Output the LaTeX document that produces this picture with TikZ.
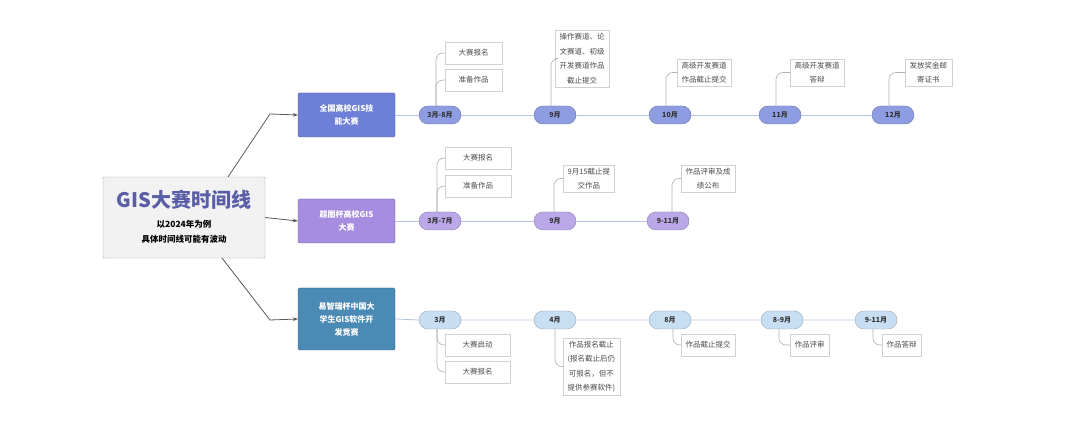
\documentclass[tikz,border=0pt]{standalone}
\usepackage{fontspec}
\setmainfont{Noto Sans CJK SC}
\usetikzlibrary{arrows.meta}
\definecolor{bA}{HTML}{6E7FD8}\definecolor{pA}{HTML}{8E9DE2}
\definecolor{bB}{HTML}{A68DE0}\definecolor{pB}{HTML}{BBA8E8}
\definecolor{bC}{HTML}{4A8AB4}\definecolor{pC}{HTML}{C8DFF3}
\definecolor{lnA}{HTML}{B7C4E6}\definecolor{lf}{HTML}{B0B0B8}
\definecolor{ttl}{HTML}{5A5EA6}
\begin{document}
\begin{tikzpicture}[x=1pt,y=-1pt,
 branch/.style={draw=#1!70!black,fill=#1,text=white,font=\bfseries\fontsize{8}{13}\selectfont,minimum width=97pt,minimum height=44pt,align=center,rounded corners=1.5pt},
 pill/.style={draw=#1!75!black,fill=#1,font=\bfseries\fontsize{7}{8}\selectfont,text=black!80,minimum width=42pt,minimum height=18pt,rounded corners=9pt,inner sep=1pt},
 leaf/.style={draw=black!18,fill=white,font=\fontsize{7.5}{14.5}\selectfont,text=black!70,align=center,inner xsep=4.5pt,inner ysep=3pt,minimum height=22pt},
 tl/.style={draw=lnA,line width=0.8pt},
 lk/.style={draw=lf,line width=0.6pt,rounded corners=7pt},
 ar/.style={draw=black!65,line width=0.8pt,-{Stealth[length=5pt]}}]
\useasboundingbox (0,0) rectangle (1080,446);
\fill[white] (0,0) rectangle (1080,446);
\node[draw=black!35,fill=black!5,minimum width=162pt,minimum height=81pt,rounded corners=1pt] (root) at (184,217.5) {};
\node[font=\fontsize{20}{24}\selectfont\bfseries,text=ttl] (rt) at (184,200) {GIS大赛时间线};
\node[font=\fontsize{8.5}{15}\selectfont\bfseries,align=center] (rs) at (184,232) {以2024年为例\\具体时间线可能有波动};
\node[branch=bA] (b1) at (346.5,115) {全国高校GIS技\\能大赛};
\node[branch=bB] (b2) at (346.5,221) {超图杯高校GIS\\大赛};
\node[branch=bC,minimum height=62pt] (b3) at (346.5,319) {易智瑞杯中国大\\学生GIS软件开\\发竞赛};
\coordinate (c1) at (270,114);\coordinate (c3) at (270,320);
\coordinate (r1) at (228,177);\coordinate (r3) at (222,258);
\draw[ar] (r1) -- (c1) -- (b1.west);
\draw[ar] (root.east) -- (b2.west);
\draw[ar] (r3) -- (c3) -- (b3.west);
% row 1
\node[pill=pA] (a1) at (440,115) {3月-8月};
\node[pill=pA] (a2) at (555,115) {9月};
\node[pill=pA] (a3) at (670,115) {10月};
\node[pill=pA] (a4) at (780,115) {11月};
\node[pill=pA] (a5) at (893,115) {12月};
\draw[tl] (b1.east)--(a1.west) (a1.east)--(a2.west) (a2.east)--(a3.west) (a3.east)--(a4.west) (a4.east)--(a5.west);
\node[leaf,minimum width=57pt,anchor=west] (l11) at (445,53) {大赛报名};
\node[leaf,minimum width=57pt,anchor=west] (l12) at (445,80) {准备作品};
\node[leaf,anchor=west] (l13) at (555,58.5) {操作赛道、论\\文赛道、初级\\开发赛道作品\\截止提交};
\node[leaf,anchor=west] (l14) at (677,72.5) {高级开发赛道\\作品截止提交};
\node[leaf,anchor=west] (l15) at (790,72.5) {高级开发赛道\\答辩};
\node[leaf,anchor=west] (l16) at (905,72.5) {发放奖金邮\\寄证书};
\draw[lk] (436,106) |- (l11.west);\draw[lk] (436,106) |- (l12.west);
\draw[lk] (551,106) |- (l13.west);\draw[lk] (666,106) |- (l14.west);
\draw[lk] (776,106) |- (l15.west);\draw[lk] (889,106) |- (l16.west);
% row 2
\node[pill=pB] (d1) at (440,221) {3月-7月};
\node[pill=pB] (d2) at (555,221) {9月};
\node[pill=pB] (d3) at (668,221) {9-11月};
\draw[tl] (b2.east)--(d1.west) (d1.east)--(d2.west) (d2.east)--(d3.west);
\node[leaf,minimum width=66pt,anchor=west] (l21) at (445,158) {大赛报名};
\node[leaf,minimum width=66pt,anchor=west] (l22) at (445,186) {准备作品};
\node[leaf,anchor=west] (l23) at (563,178.5) {9月15截止提\\交作品};
\node[leaf,anchor=west] (l24) at (681,178.5) {作品评审及成\\绩公布};
\draw[lk] (437,212) |- (l21.west);\draw[lk] (437,212) |- (l22.west);
\draw[lk] (554,212) |- (l23.west);\draw[lk] (672,212) |- (l24.west);
% row 3
\node[pill=pC] (e1) at (440,320) {3月};
\node[pill=pC] (e2) at (555,320) {4月};
\node[pill=pC] (e3) at (670,320) {8月};
\node[pill=pC] (e4) at (782,320) {8-9月};
\node[pill=pC] (e5) at (876,320) {9-11月};
\draw[tl] (b3.east)--(e1.west) (e1.east)--(e2.west) (e2.east)--(e3.west) (e3.east)--(e4.west) (e4.east)--(e5.west);
\node[leaf,minimum width=65pt,anchor=west] (l31) at (445,345) {大赛启动};
\node[leaf,minimum width=65pt,anchor=west] (l32) at (445,372) {大赛报名};
\node[leaf,anchor=west] (l33) at (563,366.5) {作品报名截止\\(报名截止后仍\\可报名，但不\\提供参赛软件)};
\node[leaf,anchor=west] (l34) at (681,345) {作品截止提交};
\node[leaf,anchor=west] (l35) at (790,345) {作品评审};
\node[leaf,anchor=west] (l36) at (882,345) {作品答辩};
\draw[lk] (437,329) |- (l31.west);\draw[lk] (437,329) |- (l32.west);
\draw[lk] (555,329) |- (l33.west);\draw[lk] (673,329) |- (l34.west);
\draw[lk] (779,329) |- (l35.west);\draw[lk] (873,329) |- (l36.west);
\end{tikzpicture}
\end{document}
